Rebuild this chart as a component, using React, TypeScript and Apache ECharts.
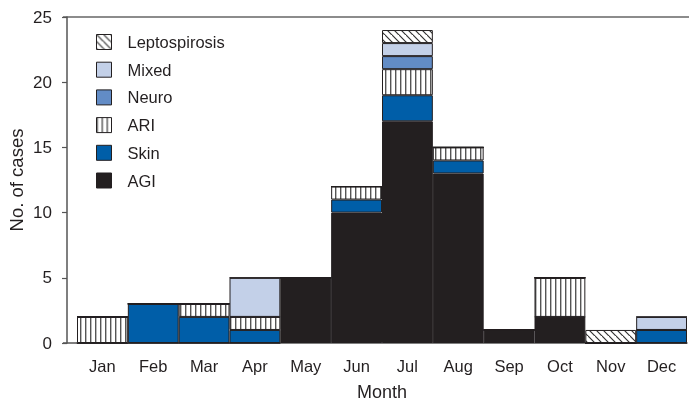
import React, { useEffect, useRef } from "react";
import * as echarts from "echarts";

const months = ["Jan", "Feb", "Mar", "Apr", "May", "Jun", "Jul", "Aug", "Sep", "Oct", "Nov", "Dec"];
const agi = [0, 0, 0, 0, 5, 10, 17, 13, 1, 2, 0, 0];
const skin = [0, 3, 2, 1, 0, 1, 2, 1, 0, 0, 0, 1];
const ari = [2, 0, 1, 1, 0, 1, 2, 1, 0, 3, 0, 0];
const neuro = [0, 0, 0, 0, 0, 0, 1, 0, 0, 0, 0, 0];
const mixed = [0, 0, 0, 3, 0, 0, 1, 0, 0, 0, 0, 1];
const lepto = [0, 0, 0, 0, 0, 0, 1, 0, 0, 0, 1, 0];
const yTicks = [0, 5, 10, 15, 20, 25];

const FONT = "Liberation Sans, Arial, Helvetica, sans-serif";
const INK = "#231f20";

function makeStripes(): HTMLCanvasElement {
  const c = document.createElement("canvas");
  c.width = 5;
  c.height = 5;
  const ctx = c.getContext("2d")!;
  ctx.fillStyle = "#ffffff";
  ctx.fillRect(0, 0, 5, 5);
  ctx.fillStyle = "#555555";
  ctx.fillRect(0, 0, 1.4, 5);
  return c;
}

function makeDiag(): HTMLCanvasElement {
  const s = 7;
  const c = document.createElement("canvas");
  c.width = s;
  c.height = s;
  const ctx = c.getContext("2d")!;
  ctx.fillStyle = "#ffffff";
  ctx.fillRect(0, 0, s, s);
  ctx.strokeStyle = "#333333";
  ctx.lineWidth = 1.2;
  ctx.beginPath();
  ctx.moveTo(-1, -1);
  ctx.lineTo(s + 1, s + 1);
  ctx.moveTo(-s - 1, -1);
  ctx.lineTo(1, s + 1);
  ctx.moveTo(s - 1, -s - 1);
  ctx.lineTo(2 * s + 1, s + 1);
  ctx.stroke();
  return c;
}

export default function App() {
  const ref = useRef<HTMLDivElement>(null);
  useEffect(() => {
    if (!ref.current) return;
    const chart = echarts.init(ref.current, null, { renderer: "svg" });
    const stripes = { image: makeStripes(), repeat: "repeat" as const };
    const diag = { image: makeDiag(), repeat: "repeat" as const };
    const mk = (name: string, data: number[], color: any) => ({
      name,
      type: "bar",
      stack: "all",
      data,
      barCategoryGap: 0,
      itemStyle: { color, borderColor: INK, borderWidth: 1 },
      emphasis: { disabled: true },
    });
    const gridTop = 17;
    const gridBottom = 343;
    chart.setOption({
      animation: false,
      textStyle: { fontFamily: FONT },
      grid: {
        left: 77,
        right: 2,
        top: gridTop,
        bottom: 404 - gridBottom,
        containLabel: false,
        outerBoundsMode: "none",
      },
      legend: {
        orient: "vertical",
        left: 96,
        top: 33.5,
        padding: 0,
        itemWidth: 15,
        itemHeight: 15,
        itemGap: 10.7,
        icon: "rect",
        selectedMode: false,
        data: ["Leptospirosis", "Mixed", "Neuro", "ARI", "Skin", "AGI"],
        textStyle: { fontSize: 16.5, lineHeight: 15, color: INK, fontFamily: FONT, padding: [0, 0, 0, 11] },
        itemStyle: { borderColor: INK, borderWidth: 1 },
      },
      xAxis: {
        type: "category",
        data: months,
        name: "Month",
        nameLocation: "middle",
        nameGap: 40,
        nameMoveOverlap: false,
        nameTextStyle: { fontSize: 18, color: INK, fontFamily: FONT },
        axisLine: { lineStyle: { color: "#555", width: 1.5 } },
        axisTick: { alignWithLabel: true, length: 6, lineStyle: { color: "#555", width: 1.2 } },
        axisLabel: { fontSize: 16.5, color: INK, margin: 14, fontFamily: FONT },
      },
      yAxis: {
        type: "value",
        min: 0,
        max: 25,
        interval: 5,
        offset: 10,
        name: "No. of cases",
        nameLocation: "middle",
        nameGap: 41,
        nameMoveOverlap: false,
        nameTextStyle: { fontSize: 18.5, color: INK, fontFamily: FONT },
        axisLine: { show: true, lineStyle: { color: "#555", width: 1.5 } },
        axisTick: { show: true, length: 5, lineStyle: { color: "#555", width: 1.2 } },
        axisLabel: {
          fontSize: 17,
          color: INK,
          margin: 15,
          fontFamily: FONT,
          customValues: yTicks,
        },
        splitLine: { show: false },
      },
      graphic: [
        {
          type: "line",
          shape: { x1: 63, y1: gridTop, x2: 689, y2: gridTop },
          style: { stroke: "#666", lineWidth: 1.5 },
          silent: true,
        },
        {
          type: "line",
          shape: { x1: 63, y1: gridBottom, x2: 77, y2: gridBottom },
          style: { stroke: "#555", lineWidth: 1.5 },
          silent: true,
        },
      ],
      series: [
        mk("AGI", agi, INK),
        mk("Skin", skin, "#005ea8"),
        mk("ARI", ari, stripes),
        mk("Neuro", neuro, "#628cc6"),
        mk("Mixed", mixed, "#c3d0e8"),
        mk("Leptospirosis", lepto, diag),
      ],
    });
    return () => chart.dispose();
  }, []);
  return <div ref={ref} style={{ position: "fixed", left: 0, top: 0, width: 689, height: 404 }} />;
}
